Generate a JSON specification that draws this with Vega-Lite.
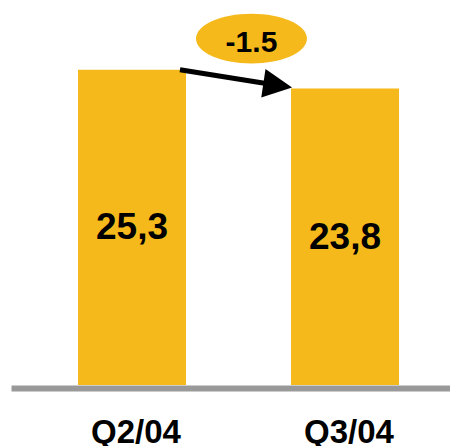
{
  "$schema": "https://vega.github.io/schema/vega-lite/v6.json",
  "autosize": "none",
  "width": 439,
  "height": 385,
  "padding": {"left": 11, "top": 0, "right": 0, "bottom": 61},
  "config": {"view": {"stroke": null}},
  "datasets": {
    "bars": [
      {"q": "Q2/04", "v": 25.3, "label": "25,3"},
      {"q": "Q3/04", "v": 23.8, "label": "23,8"}
    ],
    "change": [
      {"q": "Q2/04", "q2": "Q3/04", "v1": 25.3, "v2": 23.8, "delta": "-1.5", "bubble": 27.8}
    ]
  },
  "resolve": {"scale": {"y": "independent"}},
  "layer": [
    {
      "data": {"name": "bars"},
      "mark": {"type": "bar", "color": "#F5B91B"},
      "encoding": {
        "x": {
          "field": "q", "type": "nominal", "title": null,
          "scale": {"paddingInner": 0.493, "paddingOuter": 0.277, "align": 0.568},
          "axis": {
            "domainColor": "#999999", "domainWidth": 6, "offset": 3,
            "ticks": false, "tickSize": 0, "labelAngle": 0,
            "labelFont": "Liberation Sans", "labelFontWeight": "bold",
            "labelFontSize": 33, "labelColor": "#000000",
            "labelPadding": 28, "labelOffset": 4, "grid": false
          }
        },
        "y": {"field": "v", "type": "quantitative", "axis": null,
              "scale": {"domain": [0, 30.9], "nice": false, "zero": true}}
      }
    },
    {
      "data": {"name": "bars"},
      "mark": {"type": "text", "font": "Liberation Sans", "fontWeight": "bold",
               "fontSize": 37, "color": "#000000", "baseline": "middle", "dy": 1},
      "encoding": {
        "x": {"field": "q", "type": "nominal", "title": null},
        "y": {"field": "v", "type": "quantitative", "axis": null,
              "scale": {"domain": [0, 61.8], "nice": false, "zero": true}},
        "text": {"field": "label"}
      }
    },
    {
      "data": {"name": "change"},
      "mark": {"type": "rule", "color": "#000000", "strokeWidth": 5,
               "x2Offset": -14, "y2Offset": -3.2},
      "encoding": {
        "x": {"field": "q", "type": "nominal", "title": null, "bandPosition": 0.944},
        "x2": {"field": "q2", "bandPosition": 0},
        "y": {"field": "v1", "type": "quantitative", "axis": null,
              "scale": {"domain": [0, 30.9], "nice": false, "zero": true}},
        "y2": {"field": "v2"}
      }
    },
    {
      "data": {"name": "change"},
      "mark": {"type": "point", "shape": "M1,0L-1,-1L-1,1Z", "filled": true,
               "color": "#000000", "opacity": 1, "size": 841, "angle": 8.4,
               "xOffset": -13.3, "yOffset": -3.1},
      "encoding": {
        "x": {"field": "q2", "type": "nominal", "title": null, "bandPosition": 0},
        "y": {"field": "v2", "type": "quantitative", "axis": null,
              "scale": {"domain": [0, 30.9], "nice": false, "zero": true}}
      }
    },
    {
      "data": {"name": "change"},
      "mark": {"type": "point", "shape": "M-1,0A1,0.45,0,1,1,1,0A1,0.45,0,1,1,-1,0Z",
               "filled": true, "color": "#F5B91B", "opacity": 1, "size": 12321},
      "encoding": {
        "x": {"field": "q", "type": "nominal", "title": null, "bandPosition": 1.606},
        "y": {"field": "bubble", "type": "quantitative", "axis": null,
              "scale": {"domain": [0, 30.9], "nice": false, "zero": true}}
      }
    },
    {
      "data": {"name": "change"},
      "mark": {"type": "text", "font": "Liberation Sans", "fontWeight": "bold",
               "fontSize": 30, "color": "#000000", "baseline": "middle", "dy": 4},
      "encoding": {
        "x": {"field": "q", "type": "nominal", "title": null, "bandPosition": 1.606},
        "y": {"field": "bubble", "type": "quantitative", "axis": null,
              "scale": {"domain": [0, 30.9], "nice": false, "zero": true}},
        "text": {"field": "delta"}
      }
    }
  ]
}
